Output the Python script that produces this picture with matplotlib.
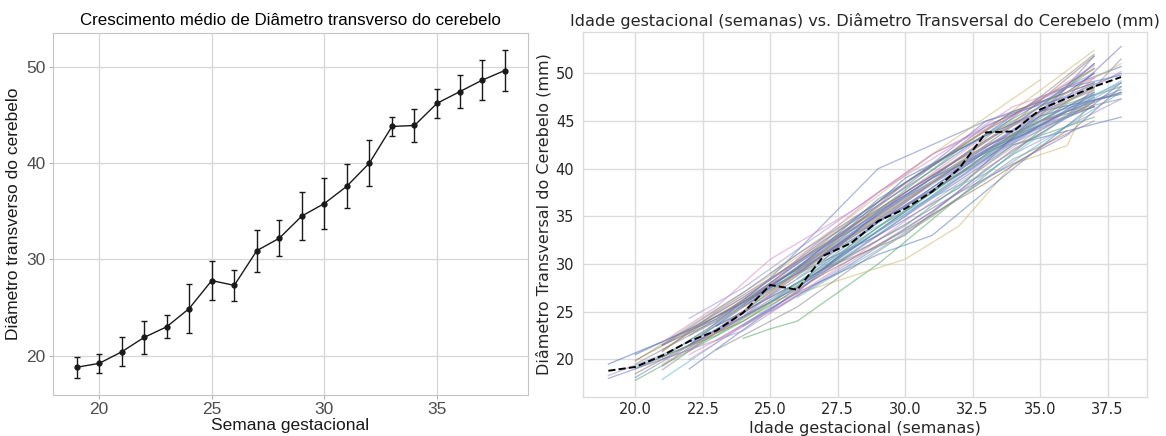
import matplotlib
matplotlib.use("Agg")
import matplotlib.pyplot as plt
from matplotlib.ticker import FormatStrFormatter

# ---------------- data ----------------
weeks = [19, 20, 21, 22, 23, 24, 25, 26, 27, 28, 29, 30, 31, 32, 33, 34, 35, 36, 37, 38]
mean_dtc = [18.8, 19.2, 20.4, 21.9, 23.0, 24.9, 27.8, 27.3, 30.9, 32.2,
            34.5, 35.8, 37.6, 40.0, 43.8, 43.9, 46.2, 47.4, 48.6, 49.6]
sd_dtc = [1.1, 1.0, 1.5, 1.7, 1.2, 2.5, 2.0, 1.6, 2.2, 1.9,
          2.5, 2.6, 2.3, 2.4, 1.0, 1.7, 1.5, 1.7, 2.1, 2.1]

subj_weeks = [
    [19, 23, 27, 31, 35, 38], [19, 22, 26, 30, 34, 37], [20, 24, 28, 32, 36, 38],
    [20, 23, 27, 31, 35, 37], [20, 22, 25, 29, 33, 37], [21, 25, 29, 33, 37],
    [21, 24, 28, 32, 36, 38], [21, 25, 29, 33, 36, 38], [21, 23, 27, 30, 34, 37],
    [22, 26, 30, 34, 38], [22, 25, 29, 32, 35, 37], [22, 24, 27, 31, 34, 37],
    [22, 25, 28, 31, 35, 38], [23, 26, 29, 33, 37], [24, 25, 26, 29, 32, 35, 37],
    [22, 25, 29, 33, 37], [21, 25, 30, 32, 34, 36, 37], [26, 30, 33, 36, 38],
    [20, 24, 28, 31, 35, 37], [23, 26, 29, 33, 36, 37], [21, 25, 28, 30, 34, 37],
    [22, 26, 30, 33, 37], [24, 27, 30, 33, 36, 38], [21, 24, 27, 31, 34, 38],
    [20, 23, 26, 29, 32, 35, 37], [25, 28, 31, 34, 37], [22, 25, 27, 30, 34, 37],
    [24, 27, 29, 32, 35, 38], [25, 28, 31, 35], [26, 29, 32, 36, 38],
    [27, 30, 33, 36, 38], [23, 27, 30, 34, 37], [21, 24, 28, 32, 35, 37],
    [24, 26, 29, 31, 34, 38], [22, 25, 28, 32, 36, 37], [28, 31, 34, 37],
    [20, 22, 26, 30, 33, 37], [23, 25, 29, 32, 36, 38], [24, 28, 32, 35, 37],
    [21, 23, 26, 31, 35, 37], [25, 27, 30, 34, 38], [26, 28, 31, 33, 37],
    [22, 24, 28, 31, 35, 38], [27, 29, 33, 35, 37],
    [20, 24, 27, 30, 33, 37], [21, 23, 26, 29, 32, 36, 38], [22, 24, 26, 29, 31, 34, 37],
    [19, 21, 24, 27, 30, 33, 37], [23, 25, 28, 30, 33, 35, 38], [24, 26, 28, 30, 32, 35, 37],
    [20, 23, 25, 28, 31, 34, 37], [21, 24, 26, 29, 31, 33, 36], [22, 25, 27, 29, 32, 34, 37],
    [25, 27, 29, 31, 33, 36, 38], [23, 26, 28, 31, 34, 37], [26, 28, 30, 32, 35, 37],
    [20, 22, 24, 27, 30, 33, 36], [27, 29, 31, 34, 36, 38],
    [21, 23, 25, 28, 31, 34, 37], [22, 24, 27, 30, 32, 35, 38],
]
subj_values = [
    [19.5, 24.2, 32.5, 39.8, 47.5, 50.7], [18.0, 21.0, 28.0, 35.2, 43.0, 47.5], [17.8, 24.0, 31.5, 39.5, 46.8, 48.6],
    [18.1, 23.1, 30.2, 38.5, 46.0, 48.2], [19.8, 23.5, 28.8, 36.5, 44.0, 52.4], [17.9, 25.5, 33.5, 41.5, 47.8],
    [18.9, 24.8, 32.8, 40.5, 46.0, 47.3], [19.3, 27.0, 35.2, 43.0, 47.5, 52.8], [20.8, 25.0, 32.0, 37.5, 44.8, 51.8],
    [19.0, 27.2, 35.0, 42.5, 45.4], [20.0, 25.2, 33.0, 39.0, 44.5, 49.5], [24.3, 27.5, 33.5, 41.5, 45.8, 50.0],
    [21.5, 27.8, 32.5, 38.0, 45.5, 48.0], [22.0, 27.0, 34.5, 42.5, 46.5], [22.2, 23.2, 24.0, 30.0, 37.0, 44.0, 47.0],
    [21.5, 28.5, 40.0, 45.0, 49.0], [19.5, 26.0, 30.5, 34.0, 40.5, 42.4, 48.5], [27.5, 35.0, 41.5, 46.5, 49.0],
    [19.5, 25.5, 33.0, 39.0, 47.5, 52.0], [24.0, 29.5, 36.0, 44.5, 48.0, 50.0], [21.0, 28.0, 34.5, 38.5, 46.0, 49.0],
    [22.5, 29.5, 37.0, 42.0, 46.5], [24.5, 31.5, 37.5, 43.5, 47.0, 50.2], [20.0, 23.0, 28.5, 35.5, 41.5, 47.3],
    [20.5, 24.5, 29.0, 33.0, 38.0, 46.0, 51.0], [25.0, 30.0, 35.5, 42.0, 47.0], [22.0, 26.5, 29.5, 34.0, 42.5, 45.4],
    [26.0, 32.0, 35.0, 40.5, 46.5, 50.0], [29.0, 35.0, 41.5, 49.3], [26.5, 31.5, 37.0, 44.5, 48.0],
    [29.5, 33.0, 40.0, 45.5, 51.5], [23.5, 29.5, 35.5, 44.0, 50.0], [21.5, 26.5, 34.0, 41.0, 45.0, 46.5],
    [23.5, 27.0, 31.0, 33.0, 40.0, 49.0], [20.5, 25.0, 30.5, 38.5, 46.0, 47.0], [33.5, 39.0, 44.0, 49.0],
    [19.0, 21.5, 27.5, 36.0, 42.0, 48.0], [22.8, 26.0, 32.5, 37.5, 43.5, 48.6], [25.0, 33.5, 42.0, 46.5, 50.5],
    [21.5, 24.0, 30.0, 39.0, 45.5, 51.8], [27.0, 31.0, 36.5, 45.0, 51.0], [28.5, 32.5, 37.0, 39.5, 47.5],
    [23.0, 26.0, 33.0, 38.5, 45.0, 48.0], [31.0, 34.5, 41.0, 45.5, 48.5],
    [19.9, 26.0, 31.5, 38.5, 44.0, 50.5], [20.2, 23.8, 29.5, 36.8, 42.0, 48.5, 49.8], [21.0, 25.0, 30.5, 37.5, 41.0, 46.5, 49.5],
    [18.3, 20.5, 24.5, 31.0, 36.5, 42.0, 48.0], [23.5, 27.5, 34.0, 39.0, 43.5, 46.0, 47.8], [25.5, 29.0, 33.0, 36.0, 39.5, 44.5, 47.8],
    [19.2, 22.5, 26.0, 32.0, 37.5, 43.5, 48.8], [21.5, 27.0, 31.0, 36.5, 40.5, 45.0, 47.5], [22.5, 27.0, 30.5, 35.0, 40.5, 44.5, 48.3],
    [26.0, 30.0, 33.5, 37.0, 41.0, 46.0, 49.2], [21.0, 25.5, 29.5, 35.0, 41.0, 45.0], [29.0, 33.0, 37.5, 41.0, 46.5, 51.0],
    [18.5, 21.5, 24.0, 29.0, 33.5, 38.5, 44.0], [30.5, 35.5, 39.0, 43.0, 46.0, 48.3],
    [21.8, 25.5, 30.5, 35.5, 41.5, 45.5, 50.8], [23.0, 26.5, 32.0, 37.0, 40.0, 44.0, 49.0],
]

left_xticks = [20, 25, 30, 35]
left_yticks = [20, 30, 40, 50]
right_xticks = [20.0, 22.5, 25.0, 27.5, 30.0, 32.5, 35.0, 37.5]
right_yticks = [20, 25, 30, 35, 40, 45, 50]

palette = ['#4C72B0', '#8172B3', '#55A868', '#6F7FC4', '#CCB974', '#64B5CD',
           '#8C8C8C', '#7E6FB8', '#937860', '#5B7DB8', '#DA8BC3', '#9A94CC']

W, H = 1166, 436

def box(l, t, r, b):
    return [l / W, (H - b) / H, (r - l) / W, (b - t) / H]

# ---------------- figure ----------------
fig = plt.figure(figsize=(W / 100, H / 100), dpi=100)
fig.patch.set_facecolor('white')

# Left panel (ggplot-like)
axL = fig.add_axes(box(52.7, 33.3, 528, 395))
axL.set_facecolor('white')
axL.grid(True, color='#d6d6d6', linewidth=0.9)
axL.set_axisbelow(True)
for s in axL.spines.values():
    s.set_color('#c4c4c4')
    s.set_linewidth(0.8)
axL.errorbar(weeks, mean_dtc, yerr=sd_dtc, fmt='-o', color='#1a1a1a',
             ecolor='#1a1a1a', elinewidth=1.0, capsize=2, capthick=1.0,
             markersize=3.5, linewidth=1.0)
axL.set_xlim(17.94, 39.04)
axL.set_ylim(15.92, 53.47)
axL.set_xticks(left_xticks)
axL.set_yticks(left_yticks)
axL.tick_params(axis='both', colors='#b3b3b3', labelcolor='#4d4d4d',
                labelsize=12.5, length=3, width=0.8, pad=2)
for lab in axL.get_xticklabels() + axL.get_yticklabels():
    lab.set_family('Liberation Sans')
axL.set_title('Crescimento médio de Diâmetro transverso do cerebelo',
              fontsize=12.2, family='Liberation Sans', color='black', pad=6)
axL.set_xlabel('Semana gestacional', fontsize=12.5, family='Liberation Sans',
               color='#1a1a1a', labelpad=1)
axL.set_ylabel('Diâmetro transverso do cerebelo', fontsize=12.5,
               family='Liberation Sans', color='#1a1a1a', labelpad=4)

# Right panel (seaborn whitegrid-like)
axR = fig.add_axes(box(582.7, 31.7, 1146.7, 396.7))
axR.set_facecolor('white')
axR.grid(True, color='#dcdcdc', linewidth=1.0)
axR.set_axisbelow(True)
for s in axR.spines.values():
    s.set_color('#dcdcdc')
    s.set_linewidth(1.0)
for i, (wk, vals) in enumerate(zip(subj_weeks, subj_values)):
    axR.plot(wk, vals, color=palette[i % len(palette)], alpha=0.55, linewidth=0.95)
axR.plot(weeks, mean_dtc, color='black', linestyle='--', linewidth=1.4)
axR.set_xlim(18.05, 38.95)
axR.set_ylim(16.08, 54.36)
axR.set_xticks(right_xticks)
axR.set_yticks(right_yticks)
axR.xaxis.set_major_formatter(FormatStrFormatter('%.1f'))
axR.tick_params(axis='x', length=0, labelsize=10.5, labelcolor='#262626', pad=4)
axR.tick_params(axis='y', length=0, labelsize=10.5, labelcolor='#262626', pad=6)
axR.set_title('Idade gestacional (semanas) vs. Diâmetro Transversal do Cerebelo (mm)',
              fontsize=11.6, color='#262626', pad=4)
axR.set_xlabel('Idade gestacional (semanas)', fontsize=11.5, color='#262626', labelpad=3)
axR.set_ylabel('Diâmetro Transversal do Cerebelo (mm)', fontsize=11.5, color='#262626', labelpad=3)

fig.savefig('out.png', dpi=100)
